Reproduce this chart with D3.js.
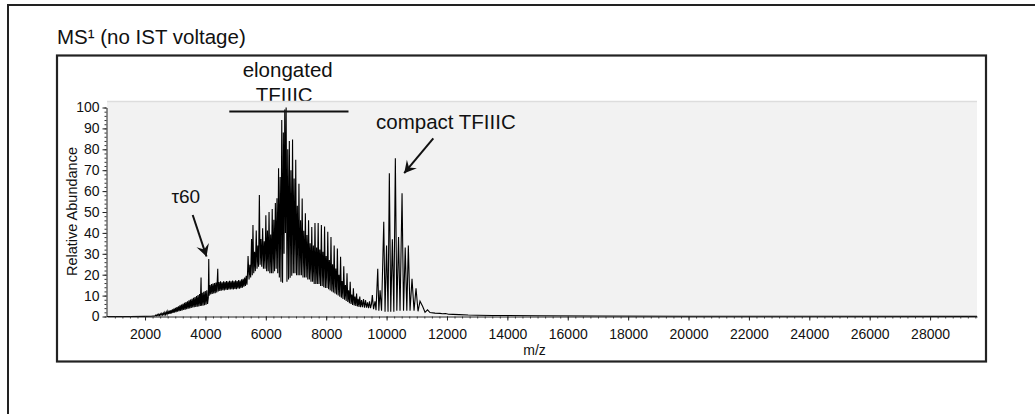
<!DOCTYPE html>
<html>
<head>
<meta charset="utf-8">
<script src="https://cdn.jsdelivr.net/npm/d3@7/dist/d3.min.js"></script>
<style>
  html, body { margin: 0; padding: 0; background: #fff; }
  svg { display: block; font-family: Arial, "Liberation Sans", sans-serif; }
</style>
</head>
<body>
<svg id="chart" width="1035" height="414"></svg>
<script>
// ---- Spectrum data: [m/z, relative abundance] ----
const lowMassBaseline = [
  [740, 0], [1500, 0], [2000, 0.05], [2200, 0.1]
];

const onsetBand = [
  [2331, 0.3], [2355, 0.7], [2380, 0.3], [2405, 0.9], [2430, 0.4], [2455, 1.1],
  [2480, 0.5], [2505, 1.3], [2530, 0.6], [2555, 1.5], [2580, 0.7], [2605, 1.7],
  [2630, 0.8], [2655, 2.0], [2680, 0.9], [2705, 2.2], [2730, 1.0], [2755, 2.5],
  [2780, 1.2], [2805, 2.8], [2830, 1.3], [2855, 3.1], [2880, 1.5], [2905, 3.4],
  [2930, 1.7], [2955, 3.8], [2980, 1.9], [3005, 4.1], [3030, 2.1], [3055, 4.5],
  [3080, 2.3], [3105, 4.9], [3130, 2.5], [3155, 5.3], [3180, 2.7], [3205, 5.7],
  [3230, 2.9], [3255, 6.1], [3280, 3.1], [3305, 6.5], [3330, 3.3], [3355, 6.9],
  [3380, 3.5], [3405, 7.3], [3430, 3.7], [3455, 7.7], [3480, 3.9], [3505, 8.1],
  [3530, 4.1], [3555, 8.5], [3580, 4.3], [3605, 8.9], [3630, 4.5], [3655, 9.3],
  [3680, 4.6], [3705, 9.8], [3730, 4.7], [3755, 10.3], [3780, 4.8], [3805, 10.8],
  [3830, 5.0], [3855, 18.7], [3870, 5.1], [3895, 11.3], [3920, 5.2], [3945, 11.8],
  [3970, 5.4], [3995, 12.2], [4020, 5.6], [4045, 12.5], [4070, 6.0], [4095, 9.0],
  [4110, 27.5], [4125, 10.0], [4150, 15.0], [4175, 10.5], [4200, 15.5], [4225, 10.8],
  [4250, 15.8], [4275, 11.0], [4300, 16.0], [4325, 11.2], [4350, 16.2], [4375, 11.5],
  [4408, 22.8], [4425, 12.0], [4450, 16.5], [4475, 12.2], [4500, 16.8], [4525, 12.4],
  [4550, 16.4], [4575, 12.6], [4600, 16.9], [4625, 12.5], [4650, 16.6], [4675, 12.8],
  [4700, 17.0], [4725, 12.7], [4750, 16.7], [4775, 13.0], [4800, 17.1], [4825, 12.9],
  [4850, 16.8], [4875, 13.1], [4900, 17.2], [4925, 13.0], [4950, 16.9], [4975, 13.2],
  [5000, 17.3], [5025, 13.1], [5050, 17.0], [5075, 13.4], [5100, 17.5], [5125, 13.3],
  [5150, 17.2], [5175, 13.6], [5200, 17.8], [5225, 13.8], [5250, 18.0], [5275, 14.2],
  [5300, 18.6], [5325, 14.6], [5350, 19.5], [5375, 15.2], [5395, 21.0]
];

const elongatedSeries = [
  [5412, 28.9], [5445, 17.7], [5471, 24.8], [5498, 18.7], [5527, 37.1], [5551, 19.7],
  [5574, 43.8], [5600, 20.7], [5627, 31.0], [5653, 21.7], [5683, 41.2], [5709, 22.8],
  [5736, 34.0], [5759, 23.8], [5786, 58.1], [5812, 24.8], [5839, 37.1], [5865, 23.8],
  [5895, 42.2], [5921, 22.8], [5948, 36.0], [5974, 22.8], [6001, 48.4], [6027, 21.7],
  [6054, 41.2], [6080, 21.7], [6107, 50.0], [6133, 20.7], [6160, 39.2], [6186, 20.7],
  [6212, 51.4], [6239, 20.7], [6265, 46.3], [6289, 21.7], [6316, 54.3], [6343, 22.8],
  [6369, 56.6], [6395, 20.7], [6422, 70.9], [6448, 18.7], [6475, 66.8], [6501, 16.6],
  [6528, 94.0], [6554, 16.1], [6581, 88.0], [6604, 30.0], [6627, 99.0], [6650, 40.0],
  [6673, 100.0], [6700, 16.6], [6726, 80.0], [6753, 17.7], [6779, 84.0], [6806, 18.5],
  [6832, 70.0], [6859, 19.5], [6885, 84.7], [6912, 20.7], [6938, 66.0], [6965, 20.7],
  [6991, 75.0], [7018, 19.7], [7044, 53.0], [7071, 19.7], [7097, 63.5], [7124, 19.7],
  [7151, 46.0], [7178, 19.7], [7204, 56.5], [7231, 18.7], [7257, 41.0], [7284, 18.7],
  [7310, 49.4], [7337, 18.7], [7363, 39.0], [7390, 17.7], [7416, 46.0], [7443, 17.7],
  [7469, 35.0], [7496, 16.6], [7522, 42.8], [7549, 16.6], [7575, 34.0], [7602, 15.6],
  [7628, 44.7], [7655, 15.6], [7681, 33.0], [7708, 15.6], [7734, 44.7], [7761, 15.6],
  [7787, 32.0], [7814, 14.6], [7840, 43.8], [7867, 14.6], [7893, 31.0], [7920, 14.0],
  [7946, 43.0], [7973, 13.6], [7999, 29.0], [8026, 13.6], [8052, 40.5], [8079, 13.0],
  [8105, 27.0], [8132, 12.5], [8158, 38.0], [8184, 12.0], [8211, 25.0], [8237, 11.5],
  [8264, 34.0], [8290, 11.0], [8317, 23.0], [8343, 10.5], [8370, 32.5], [8396, 10.0],
  [8423, 20.0], [8449, 9.5], [8476, 28.6], [8502, 9.0], [8529, 17.0], [8555, 8.4],
  [8582, 24.0], [8608, 8.0], [8636, 15.0], [8662, 7.4], [8689, 20.7], [8715, 7.0],
  [8741, 12.5], [8768, 6.4], [8794, 16.6], [8821, 6.0], [8847, 10.5], [8874, 5.5],
  [8900, 13.5], [8927, 5.3], [8953, 9.5], [8980, 5.0], [9006, 11.0], [9033, 4.8],
  [9059, 8.5], [9086, 4.6], [9112, 9.5], [9139, 4.5], [9170, 7.8], [9203, 4.5],
  [9236, 8.3], [9269, 4.2], [9303, 7.8], [9336, 4.2], [9369, 6.8], [9402, 4.0],
  [9435, 7.2], [9468, 4.0], [9501, 6.2], [9528, 10.3], [9568, 3.5], [9617, 7.3],
  [9650, 3.0]
];

const compactSeries = [
  [9707, 22.8], [9743, 2.8], [9784, 12.5], [9833, 2.8], [9906, 45.3], [9949, 2.3],
  [9999, 34.0], [10048, 2.3], [10091, 68.5], [10138, 2.3], [10191, 37.0], [10240, 2.3],
  [10290, 75.7], [10339, 2.8], [10396, 38.0], [10445, 2.8], [10512, 59.0], [10561, 2.8],
  [10617, 33.0], [10670, 2.8], [10720, 34.0], [10776, 2.8], [10842, 18.0], [10909, 2.8],
  [10975, 13.5], [11041, 2.5], [11107, 7.3], [11196, 4.8], [11273, 2.0], [11355, 3.2],
  [11438, 1.9], [11603, 1.6], [11769, 1.5]
];

const highMassTail = [
  [11850, 1.3], [11950, 1.4], [12050, 1.1], [12200, 1.0], [12400, 0.9], [12700, 0.7],
  [13000, 0.6], [13500, 0.5], [14000, 0.45], [15000, 0.35], [17000, 0.25],
  [20000, 0.15], [24000, 0.1], [29554, 0.05]
];

// ---- Axis ticks ----
const mzTickValues = [2000, 4000, 6000, 8000, 10000, 12000, 14000, 16000,
                      18000, 20000, 22000, 24000, 26000, 28000];
const abundanceTickValues = [0, 10, 20, 30, 40, 50, 60, 70, 80, 90, 100];

// ---- Annotation text ----
const titleText = "MS\u00B9 (no IST voltage)";
const elongatedLabel = ["elongated", "TFIIIC"];
const compactLabel = "compact TFIIIC";
const tauLabel = "\u03C460";
const xAxisTitle = "m/z";
const yAxisTitle = "Relative Abundance";

const spectrum = [].concat(lowMassBaseline, onsetBand, elongatedSeries, compactSeries, highMassTail);

// ---- Layout ----
const svg = d3.select("#chart");
const plot = { left: 107, right: 977, top: 101, bottom: 316.5 };

const x = d3.scaleLinear().domain([740, 29554]).range([plot.left, plot.right]);
const y = d3.scaleLinear().domain([0, 100]).range([316.5, 107.5]);

// outer panel frame (continues past the right/bottom edge)
svg.append("rect")
  .attr("x", 8).attr("y", 5).attr("width", 1060).attr("height", 440)
  .attr("fill", "none").attr("stroke", "#222").attr("stroke-width", 2);

// inner figure frame
svg.append("rect")
  .attr("x", 57).attr("y", 55.5).attr("width", 929).attr("height", 306)
  .attr("fill", "none").attr("stroke", "#222").attr("stroke-width", 2.2);

// panel title
svg.append("text")
  .attr("x", 57).attr("y", 44.3)
  .attr("font-size", 20.5).attr("fill", "#111")
  .text(titleText);

// "elongated TFIIIC" label sits just behind the top of the plot area
svg.append("text")
  .attr("x", 287.7).attr("y", 77.3)
  .attr("text-anchor", "middle").attr("font-size", 20.5).attr("fill", "#111")
  .text(elongatedLabel[0]);
svg.append("text")
  .attr("x", 284.2).attr("y", 102.3)
  .attr("text-anchor", "middle").attr("font-size", 20.5).attr("fill", "#111")
  .text(elongatedLabel[1]);

// plot background
svg.append("rect")
  .attr("x", plot.left).attr("y", plot.top)
  .attr("width", plot.right - plot.left).attr("height", plot.bottom - plot.top)
  .attr("fill", "#f2f2f2");
svg.append("line")
  .attr("x1", plot.left).attr("x2", plot.right)
  .attr("y1", plot.top + 0.5).attr("y2", plot.top + 0.5)
  .attr("stroke", "#dddddd").attr("stroke-width", 1.5);

// clip for the trace
svg.append("clipPath").attr("id", "plotClip")
  .append("rect")
  .attr("x", plot.left).attr("y", plot.top)
  .attr("width", plot.right - plot.left).attr("height", plot.bottom - plot.top + 1);

// spectrum trace
const line = d3.line().x(d => x(d[0])).y(d => y(d[1]));
svg.append("path")
  .datum(spectrum)
  .attr("clip-path", "url(#plotClip)")
  .attr("fill", "none")
  .attr("stroke", "#000")
  .attr("stroke-width", 1.1)
  .attr("stroke-linejoin", "miter")
  .attr("d", line);

// y axis: minor + major ticks
const yMinor = d3.range(0, 101, 2);
svg.append("g")
  .attr("transform", `translate(${plot.left - 0.5},0)`)
  .call(d3.axisLeft(y).tickValues(yMinor).tickSize(2).tickFormat(""))
  .call(g => g.select(".domain").remove())
  .selectAll("line").attr("stroke", "#333");

const yAxis = svg.append("g")
  .attr("transform", `translate(${plot.left - 0.5},0)`)
  .call(d3.axisLeft(y).tickValues(abundanceTickValues).tickSize(4).tickSizeOuter(0).tickPadding(3));
yAxis.select(".domain").attr("stroke", "#222");
yAxis.selectAll("line").attr("stroke", "#222");
yAxis.selectAll("text").attr("font-size", 14).attr("fill", "#111")
  .attr("font-family", "Arial, 'Liberation Sans', sans-serif");

// x axis: minor + major ticks
const xMinor = d3.range(1000, 29501, 250);
svg.append("g")
  .attr("transform", `translate(0,${plot.bottom})`)
  .call(d3.axisBottom(x).tickValues(xMinor).tickSize(2).tickFormat(""))
  .call(g => g.select(".domain").remove())
  .selectAll("line").attr("stroke", "#444");

const xAxis = svg.append("g")
  .attr("transform", `translate(0,${plot.bottom})`)
  .call(d3.axisBottom(x).tickValues(mzTickValues).tickSize(4).tickSizeOuter(0)
        .tickPadding(9).tickFormat(d3.format("d")));
xAxis.select(".domain").attr("stroke", "#222");
xAxis.selectAll("line").attr("stroke", "#222");
xAxis.selectAll("text").attr("font-size", 14).attr("fill", "#111")
  .attr("font-family", "Arial, 'Liberation Sans', sans-serif");

// axis titles
svg.append("text")
  .attr("x", 534.5).attr("y", 355)
  .attr("text-anchor", "middle").attr("font-size", 14).attr("fill", "#111")
  .text(xAxisTitle);
svg.append("text")
  .attr("transform", "translate(77,211.5) rotate(-90)")
  .attr("text-anchor", "middle").attr("font-size", 14.5).attr("fill", "#111")
  .text(yAxisTitle);

// bracket over the elongated envelope
svg.append("line")
  .attr("x1", 229.3).attr("x2", 348.5)
  .attr("y1", 111.5).attr("y2", 111.5)
  .attr("stroke", "#111").attr("stroke-width", 2);

// peak labels
svg.append("text")
  .attr("x", 376).attr("y", 129.3)
  .attr("font-size", 20.5).attr("fill", "#111")
  .text(compactLabel);
svg.append("text")
  .attr("x", 171.5).attr("y", 202.7)
  .attr("font-size", 19).attr("fill", "#111")
  .text(tauLabel);

// arrows
const defs = svg.append("defs");
defs.append("marker")
  .attr("id", "arrowHead")
  .attr("viewBox", "-13 -8 15 16")
  .attr("refX", 0).attr("refY", 0)
  .attr("markerWidth", 15).attr("markerHeight", 16)
  .attr("markerUnits", "userSpaceOnUse")
  .attr("orient", "auto")
  .append("path")
  .attr("d", "M0,0 L-12,-6.5 L-7.5,0 L-12,6.5 Z")
  .attr("fill", "#111");

const arrows = [
  { from: [192.7, 215], to: [206.5, 256.5] },
  { from: [433.3, 138.3], to: [404.2, 173.2] }
];
svg.selectAll("line.arrow")
  .data(arrows)
  .join("line")
  .attr("class", "arrow")
  .attr("x1", d => d.from[0]).attr("y1", d => d.from[1])
  .attr("x2", d => d.to[0]).attr("y2", d => d.to[1])
  .attr("stroke", "#111").attr("stroke-width", 2)
  .attr("marker-end", "url(#arrowHead)");
</script>
</body>
</html>
